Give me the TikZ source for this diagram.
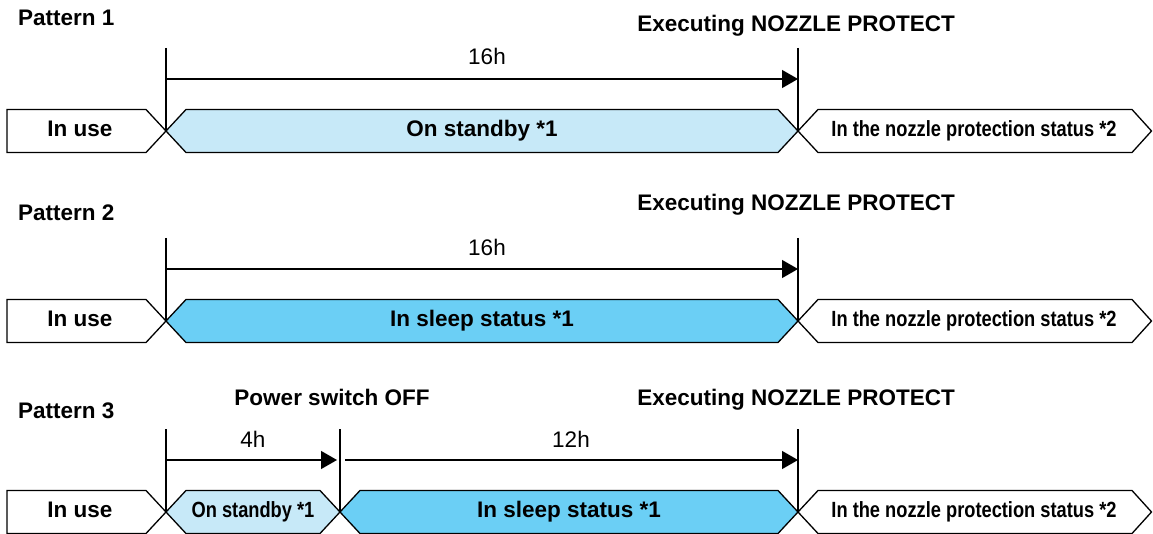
\documentclass[tikz,border=0pt]{standalone}
\usepackage{fontspec}
\setmainfont{Liberation Sans}
\newfontfamily\narrowfont[FakeStretch=0.83]{Liberation Sans}
\usetikzlibrary{arrows.meta}
\definecolor{standbyblue}{RGB}{199,233,248}
\definecolor{sleepblue}{RGB}{107,207,245}
\begin{document}
\begin{tikzpicture}[x=1pt,y=-1pt,
  band/.style={draw=black,line width=1.3pt,line join=miter},
  vline/.style={draw=black,line width=1.2pt},
  arr/.style={draw=black,line width=1.3pt,-{Triangle[length=16pt,width=18pt]}},
  lbl/.style={font=\fontsize{22.5}{26}\selectfont\bfseries,anchor=base,inner sep=0pt},
  nlbl/.style={font=\fontsize{22}{26}\selectfont\narrowfont\bfseries,anchor=base,inner sep=0pt},
  hlbl/.style={font=\fontsize{22.5}{26}\selectfont,anchor=base,inner sep=0pt},
  plbl/.style={font=\fontsize{22.5}{26}\selectfont\bfseries,anchor=base west,inner sep=0pt}
]
\useasboundingbox (0,0) rectangle (1153,534);

% ---------------- Pattern 1 ----------------
\begin{scope}[shift={(0,131)}]
  \coordinate (p1s) at (166,0);
  \coordinate (p1e) at (798,0);
  \coordinate (p1st) at (166,-83);
  \coordinate (p1et) at (798,-83);
  \coordinate (p1a0) at (167,-52);
  \coordinate (p1a1) at (798,-52);
  \draw[band,fill=white] (7,-21.5) -- (146,-21.5) -- (p1s) -- (146,21.5) -- (7,21.5) -- cycle;
  \draw[band,fill=standbyblue] (p1s) -- (186,-21.5) -- (778,-21.5) -- (p1e) -- (778,21.5) -- (186,21.5) -- cycle;
  \draw[band,fill=white] (p1e) -- (818,-21.5) -- (1132,-21.5) -- (1151.5,0) -- (1132,21.5) -- (818,21.5) -- cycle;
  \draw[vline] (p1st) -- (p1s);
  \draw[vline] (p1et) -- (p1e);
  \draw[arr] (p1a0) -- (p1a1);
  \node[plbl] (p1title) at (18,-105) {Pattern 1};
  \node[lbl] (p1exec) at (796,-99) {Executing NOZZLE PROTECT};
  \node[hlbl] (p1h) at (487,-66) {16h};
  \node[lbl] (p1use) at (80,5.5) {In use};
  \node[lbl] (p1stb) at (482,5.5) {On standby *1};
  \node[nlbl] (p1noz) at (974,5.5) {In the nozzle protection status *2};
\end{scope}

% ---------------- Pattern 2 ----------------
\begin{scope}[shift={(0,321)}]
  \coordinate (p2s) at (166,0);
  \coordinate (p2e) at (798,0);
  \coordinate (p2st) at (166,-83);
  \coordinate (p2et) at (798,-83);
  \coordinate (p2a0) at (167,-52);
  \coordinate (p2a1) at (798,-52);
  \draw[band,fill=white] (7,-21.5) -- (146,-21.5) -- (p2s) -- (146,21.5) -- (7,21.5) -- cycle;
  \draw[band,fill=sleepblue] (p2s) -- (186,-21.5) -- (778,-21.5) -- (p2e) -- (778,21.5) -- (186,21.5) -- cycle;
  \draw[band,fill=white] (p2e) -- (818,-21.5) -- (1132,-21.5) -- (1151.5,0) -- (1132,21.5) -- (818,21.5) -- cycle;
  \draw[vline] (p2st) -- (p2s);
  \draw[vline] (p2et) -- (p2e);
  \draw[arr] (p2a0) -- (p2a1);
  \node[plbl] (p2title) at (18,-100) {Pattern 2};
  \node[lbl] (p2exec) at (796,-110) {Executing NOZZLE PROTECT};
  \node[hlbl] (p2h) at (487,-65) {16h};
  \node[lbl] (p2use) at (80,5.5) {In use};
  \node[lbl] (p2slp) at (482,5.5) {In sleep status *1};
  \node[nlbl] (p2noz) at (974,5.5) {In the nozzle protection status *2};
\end{scope}

% ---------------- Pattern 3 ----------------
\begin{scope}[shift={(0,512)}]
  \coordinate (p3s) at (166,0);
  \coordinate (p3m) at (340,0);
  \coordinate (p3e) at (798,0);
  \coordinate (p3st) at (166,-83);
  \coordinate (p3mt) at (340,-83);
  \coordinate (p3et) at (798,-83);
  \coordinate (p3a0) at (167,-52);
  \coordinate (p3a1) at (337,-52);
  \coordinate (p3b0) at (345,-52);
  \coordinate (p3b1) at (798,-52);
  \draw[band,fill=white] (7,-21.5) -- (146,-21.5) -- (p3s) -- (146,21.5) -- (7,21.5) -- cycle;
  \draw[band,fill=standbyblue] (p3s) -- (186,-21.5) -- (320,-21.5) -- (p3m) -- (320,21.5) -- (186,21.5) -- cycle;
  \draw[band,fill=sleepblue] (p3m) -- (360,-21.5) -- (778,-21.5) -- (p3e) -- (778,21.5) -- (360,21.5) -- cycle;
  \draw[band,fill=white] (p3e) -- (818,-21.5) -- (1132,-21.5) -- (1151.5,0) -- (1132,21.5) -- (818,21.5) -- cycle;
  \draw[vline] (p3st) -- (p3s);
  \draw[vline] (p3mt) -- (p3m);
  \draw[vline] (p3et) -- (p3e);
  \draw[arr] (p3a0) -- (p3a1);
  \draw[arr] (p3b0) -- (p3b1);
  \node[plbl] (p3title) at (18,-94) {Pattern 3};
  \node[lbl] (p3pow) at (332,-107) {Power switch OFF};
  \node[lbl] (p3exec) at (796,-107) {Executing NOZZLE PROTECT};
  \node[hlbl] (p3h1) at (253,-65) {4h};
  \node[hlbl] (p3h2) at (571,-65) {12h};
  \node[lbl] (p3use) at (80,5.5) {In use};
  \node[nlbl] (p3stb) at (253,5.5) {On standby *1};
  \node[lbl] (p3slp) at (569,5.5) {In sleep status *1};
  \node[nlbl] (p3noz) at (974,5.5) {In the nozzle protection status *2};
\end{scope}
\end{tikzpicture}
\end{document}
